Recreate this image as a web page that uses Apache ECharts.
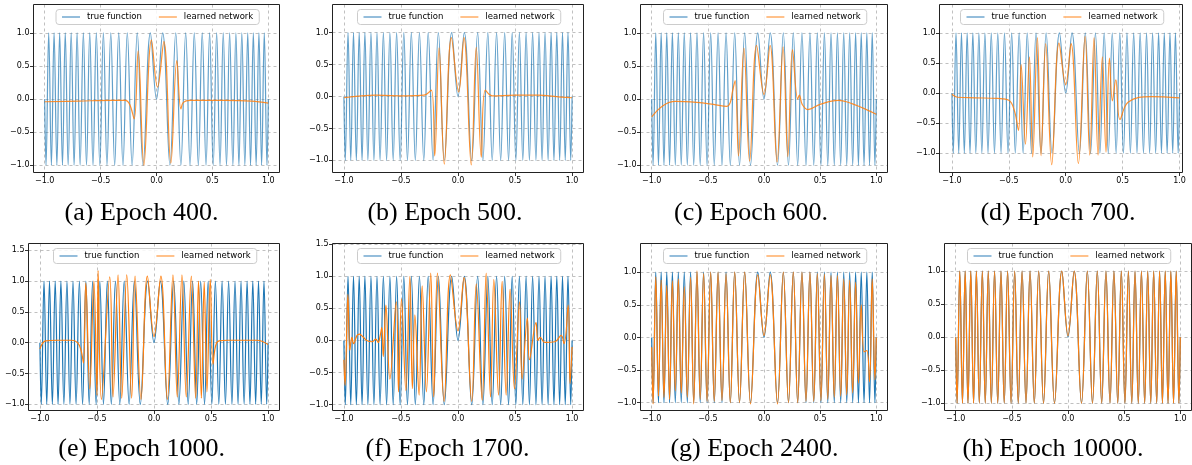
<!DOCTYPE html>
<html>
<head>
<meta charset="utf-8">
<script src="https://cdn.jsdelivr.net/npm/echarts@6/dist/echarts.min.js"></script>
<style>
html,body{margin:0;padding:0;background:#fff;}
#chart{width:1192px;height:465px;}
</style>
</head>
<body>
<div id="chart"></div>
<script>
// tick labels
const xTickLabels = [-1.0, -0.5, 0.0, 0.5, 1.0];
const yTickLabels = [-1.0, -0.5, 0.0, 0.5, 1.0, 1.5];

// true function, read at its turning points for x >= 0 (it is symmetric)
const trueX = [0, 0.055, 0.120, 0.172, 0.218, 0.261, 0.300, 0.338, 0.374, 0.409, 0.443,
  0.475, 0.507, 0.538, 0.568, 0.597, 0.626, 0.654, 0.683, 0.710, 0.737,
  0.763, 0.790, 0.816, 0.841, 0.866, 0.891, 0.916, 0.940, 0.964, 0.988, 1];
const trueY = [0, 1, -1, 1, -1, 1, -1, 1, -1, 1, -1,
  1, -1, 1, -1, 1, -1, 1, -1, 1, -1,
  1, -1, 1, -1, 1, -1, 1, -1, 1, -1, 0];

const captions = ['(a) Epoch 400.', '(b) Epoch 500.', '(c) Epoch 600.', '(d) Epoch 700.',
  '(e) Epoch 1000.', '(f) Epoch 1700.', '(g) Epoch 2400.', '(h) Epoch 10000.'];

// learned network, [x, y]
const epoch400 = [[-1,-0.04],[-0.7,-0.03],[-0.4,-0.02],[-0.28,-0.02],[-0.24,-0.08],[-0.2,-0.3],
  [-0.164,0.73],[-0.113,-1.0],[-0.045,0.89],[0.009,0.18],[0.066,0.87],[0.128,-0.97],
  [0.182,0.58],[0.218,-0.15],[0.24,-0.05],[0.3,-0.02],[0.6,-0.02],[0.85,-0.03],[1,-0.06]];
const epoch500 = [[-1,-0.02],[-0.72,0.02],[-0.45,0.01],[-0.3,0.02],[-0.233,0.1],[-0.204,-0.93],
  [-0.166,0.76],[-0.12,-1.06],[-0.058,0.92],[0.006,0.07],[0.052,0.92],[0.116,-1.07],
  [0.16,0.77],[0.204,-0.95],[0.239,0.1],[0.3,0.01],[0.5,0.02],[0.7,0.02],[0.9,-0.01],[1,-0.02]];
const epoch600 = [[-1,-0.27],[-0.9,-0.1],[-0.79,-0.035],[-0.6,-0.05],[-0.45,-0.08],[-0.33,-0.11],
  [-0.3,-0.05],[-0.28,0.12],[-0.257,0.28],[-0.227,-0.86],[-0.179,0.77],[-0.128,-0.94],
  [-0.066,0.81],[0,0.07],[0.054,0.81],[0.116,-0.95],[0.17,0.79],[0.212,-0.87],[0.254,0.75],
  [0.3,0.0],[0.315,0.06],[0.34,-0.08],[0.39,-0.16],[0.5,-0.08],[0.66,-0.02],[0.8,-0.08],[1,-0.23]];
const epoch700 = [[-1,-0.02],[-0.95,-0.07],[-0.8,-0.08],[-0.6,-0.09],[-0.5,-0.12],[-0.45,-0.3],
  [-0.415,-0.62],[-0.392,0.47],[-0.354,-0.85],[-0.319,0.6],[-0.29,-1.06],[-0.249,0.92],
  [-0.217,-1.04],[-0.176,0.82],[-0.123,-1.19],[-0.059,0.83],[0,0.14],[0.047,0.82],
  [0.111,-1.17],[0.17,0.94],[0.211,-1.03],[0.249,0.92],[0.284,-1.03],[0.322,0.6],
  [0.354,-0.98],[0.384,0.58],[0.41,-0.13],[0.44,0.22],[0.477,-0.44],[0.55,-0.15],
  [0.75,-0.06],[1,-0.08]];
const epoch1000 = [[-1,-0.1],[-0.95,0.03],[-0.85,0.04],[-0.72,0.04],[-0.67,0.0],[-0.64,-0.12],
  [-0.618,-0.33],[-0.598,0.97],[-0.563,-0.75],[-0.527,1.0],[-0.5,-0.85],[-0.49,1.17],
  [-0.461,-0.92],[-0.388,1.07],[-0.359,-0.88],[-0.315,1.1],[-0.283,-0.9],[-0.239,1.1],
  [-0.196,-0.9],[-0.166,1.08],[-0.114,-0.92],[-0.058,1.08],[0,0.1],[0.06,1.08],
  [0.117,-0.92],[0.166,1.1],[0.204,-0.88],[0.245,1.1],[0.283,-0.88],[0.327,1.08],
  [0.365,-0.9],[0.39,1.0],[0.415,-0.9],[0.44,0.98],[0.464,-0.8],[0.493,1.03],
  [0.517,-0.35],[0.54,-0.05],[0.57,0.03],[0.65,0.04],[0.9,0.04],[1,-0.03]];
const epoch1700 = [[-1,-0.3],[-0.99,-0.7],[-0.965,0.72],[-0.948,-0.15],[-0.93,0.05],[-0.915,-0.05],
  [-0.885,0.08],[-0.865,0.1],[-0.83,0.05],[-0.8,0.0],[-0.755,-0.02],[-0.72,0.02],[-0.7,-0.03],
  [-0.685,0.05],[-0.668,0.2],[-0.655,-0.25],[-0.632,0.55],[-0.597,-0.6],[-0.541,0.6],
  [-0.521,-0.8],[-0.495,0.65],[-0.457,-0.78],[-0.422,1.0],[-0.4,-0.75],[-0.378,0.4],
  [-0.341,-0.85],[-0.314,0.85],[-0.277,-0.8],[-0.239,1.05],[-0.213,-0.88],[-0.18,1.05],
  [-0.122,-0.95],[-0.067,1.02],[0,0.15],[0.052,0.98],[0.12,-0.95],[0.16,0.88],[0.212,-0.93],
  [0.247,1.05],[0.285,-0.88],[0.314,0.95],[0.355,-0.85],[0.387,0.92],[0.422,-0.85],
  [0.457,0.8],[0.495,-0.75],[0.539,0.6],[0.562,-0.6],[0.608,0.35],[0.626,-0.3],[0.684,0.28],
  [0.7,0.0],[0.72,0.05],[0.76,-0.03],[0.85,-0.02],[0.904,0.08],[0.93,-0.05],[0.966,0.55],
  [0.982,-0.67],[1,-0.1]];
// for the last two epochs the network is read at the true function's turning points
const epoch2400Y = [-0.15, -1.02, 0.93, -0.9, 0.88, -0.92, 0.8, -0.95, 0.87, -0.82, 0.9,
  -0.85, 0.78, -0.92, 0.92, -1.02, 1.02, -0.95, 0.98, -0.98, 1.0, -0.98, 1.0, -0.97, 0.98,
  -1.0, 1.0, -1.0, 1.0, -1.02, 0.96, 0.03, 0.96, -1.02, 1.0, -1.0, 1.0, -1.0, 1.0, -0.98,
  1.0, -0.98, 0.98, -0.97, 0.97, -0.95, 0.95, -0.92, 0.95, -0.9, 0.9, -0.88, 0.88, -0.85,
  0.85, -0.7, 0.5, -0.22, -0.2, -0.68, 0.9, -0.65, 0.0];
const epoch10000Y = [0, -1, 1, -1, 1, -1, 1, -1, 1, -1, 1, -1, 1, -1, 1, -1, 1, -1, 1, -1, 1,
  -1, 1, -1, 1, -1, 1, -1, 1, -1, 1, 0.02, 1, -1, 1, -1, 1, -1, 1, -1, 1, -1, 1, -1, 1, -1,
  1, -1, 1, -1, 1, -1, 1, -1, 1, -1, 1, -1, 1, -1, 1, -1, 0];

// layout: frame [left, top, width, height], axis ranges, caption centres
const frames = [[33.5,4.5,246,168],[332.5,4.5,251,168],[640.5,4.5,247,168],[939.5,4.5,243,168],
  [28.5,243.5,251,167],[332.5,243.5,251,167],[640.5,243.5,247,167],[944.5,243.5,247,167]];
const xRanges = [[-1.1,1.1],[-1.1,1.1],[-1.1,1.1],[-1.109,1.026],[-1.1,1.1],[-1.1,1.1],[-1.1,1.1],[-1.1,1.1]];
const yRanges = [[-1.11,1.43],[-1.19,1.44],[-1.11,1.43],[-1.32,1.47],[-1.10,1.61],[-1.09,1.51],[-1.12,1.44],[-1.11,1.42]];
const captionPos = [[141.5,213],[445,213],[751,213],[1058,213],[141.7,449],[447.5,449],[754.5,449],[1053,449]];

// full true curve from -1 to 1
const trueFull = [];
for (let i = trueX.length - 1; i > 0; i--) trueFull.push([-trueX[i], trueY[i]]);
for (let i = 0; i < trueX.length; i++) trueFull.push([trueX[i], trueY[i]]);

const onTurns = ys => trueFull.map((p, i) => [p[0], ys[i]]);
const learned = [epoch400, epoch500, epoch600, epoch700, epoch1000, epoch1700,
  onTurns(epoch2400Y), onTurns(epoch10000Y)];

const fmt = list => v => {
  const hit = list.some(t => Math.abs(t - v) < 1e-6);
  if (!hit) return '';
  return (v < -1e-9 ? '\u2212' : '') + Math.abs(v).toFixed(1);
};

const tickFont = { fontFamily: 'DejaVu Sans', fontSize: 8, color: '#000' };

let chart = echarts.init(document.getElementById('chart'), null, { renderer: 'canvas' });

const grid = [], xAxis = [], yAxis = [], series = [], legend = [], graphic = [];
frames.forEach((f, i) => {
  const faded = i < 4;
  const yTicks = yTickLabels.filter(v => v > yRanges[i][0] && v < yRanges[i][1]);
  grid.push({ left: f[0], top: f[1], width: f[2], height: f[3], show: false });
  xAxis.push({ gridIndex: i, type: 'value', position: 'bottom',
    min: xRanges[i][0], max: xRanges[i][1], splitNumber: 5,
    axisLine: { show: false, onZero: false },
    axisTick: { length: 3.5, customValues: xTickLabels, lineStyle: { color: '#000', width: 0.8 } },
    axisLabel: Object.assign({ margin: 4, customValues: xTickLabels, formatter: fmt(xTickLabels) }, tickFont),
    splitLine: { show: true, lineStyle: { color: '#b0b0b0', width: 0.8, type: [3, 3] } } });
  yAxis.push({ gridIndex: i, type: 'value', position: 'left',
    min: yRanges[i][0], max: yRanges[i][1], splitNumber: 5,
    axisLine: { show: false, onZero: false },
    axisTick: { length: 3.5, customValues: yTicks, lineStyle: { color: '#000', width: 0.8 } },
    axisLabel: Object.assign({ margin: 4, customValues: yTicks, formatter: fmt(yTickLabels) }, tickFont),
    splitLine: { show: true, lineStyle: { color: '#b0b0b0', width: 0.8, type: [3, 3] } } });
  series.push({ name: 'true function', type: 'line', xAxisIndex: i, yAxisIndex: i,
    data: trueFull, smooth: 0.4, symbol: 'none', animation: false,
    lineStyle: { color: '#1f77b4', width: 1.2, opacity: faded ? 0.7 : 1 },
    itemStyle: { color: '#1f77b4', opacity: faded ? 0.6 : 1 } });
  series.push({ name: 'learned network', type: 'line', xAxisIndex: i, yAxisIndex: i,
    data: learned[i], smooth: 0.4, symbol: 'none', animation: false, z: 3,
    lineStyle: { color: '#ff7f0e', width: 1.2, opacity: faded ? 0.85 : 1 },
    itemStyle: { color: '#ff7f0e', opacity: faded ? 0.6 : 1 } });
  legend.push({ left: f[0] + f[2] / 2 - 100.5, top: f[1] + 5, icon: 'rect',
    itemWidth: 18, itemHeight: 1.6, itemGap: 17,
    padding: [3, 6], backgroundColor: 'rgba(255,255,255,0.85)', borderColor: '#cccccc',
    borderWidth: 1, borderRadius: 3, selectedMode: false,
    textStyle: { fontFamily: 'DejaVu Sans', fontSize: 8.5, color: '#000', padding: [0, 0, 0, 2] },
    data: ['true function', 'learned network'] });
  // axes frame drawn on top of the grid lines
  graphic.push({ type: 'rect', z: 100, silent: true,
    shape: { x: f[0], y: f[1], width: f[2], height: f[3] },
    style: { fill: 'none', stroke: '#222', lineWidth: 1 } });
  graphic.push({ type: 'text', x: captionPos[i][0], y: captionPos[i][1],
    style: { text: captions[i], font: '26px "Liberation Serif"', fill: '#000',
      textAlign: 'center', textVerticalAlign: 'middle' } });
});

const option = { animation: false, grid, xAxis, yAxis, series, legend, graphic };

// 绘制图表
chart.setOption(option);
window.onresize = () => { chart.resize(); };
</script>
</body>
</html>
